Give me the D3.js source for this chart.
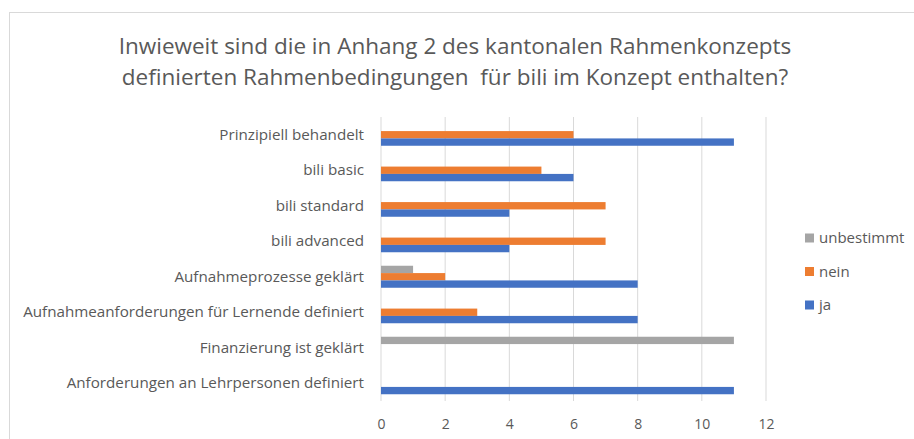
<!DOCTYPE html>
<html>
<head>
<meta charset="utf-8">
<script src="https://d3js.org/d3.v7.min.js"></script>
<style>
  body { margin: 0; background: #fff; }
  text { font-family: "Open Sans", sans-serif; fill: #595959; }
  .title { font-size: 22.5px; white-space: pre; }
</style>
</head>
<body>
<div id="chart"></div>
<script>
  var categories = [
    "Prinzipiell behandelt",
    "bili basic",
    "bili standard",
    "bili advanced",
    "Aufnahmeprozesse geklärt",
    "Aufnahmeanforderungen für Lernende definiert",
    "Finanzierung ist geklärt",
    "Anforderungen an Lehrpersonen definiert"
  ];
  var seriesNames = ["unbestimmt", "nein", "ja"];
  var unbestimmt = [0, 0, 0, 0, 1, 0, 11, 0];
  var nein = [6, 5, 7, 7, 2, 3, 0, 0];
  var ja = [11, 6, 4, 4, 8, 8, 0, 11];
  var xTicks = [0, 2, 4, 6, 8, 10, 12];
  var titleLines = [
    "Inwieweit sind die in Anhang 2 des kantonalen Rahmenkonzepts",
    "definierten Rahmenbedingungen  für bili im Konzept enthalten?"
  ];

  var colours = { unbestimmt: "#a5a5a5", nein: "#ed7d31", ja: "#4472c4" };
  var seriesValues = { unbestimmt: unbestimmt, nein: nein, ja: ja };

  var width = 914, height = 439;
  var plot = { left: 381, right: 766, top: 117, bottom: 401 };

  var svg = d3.select("#chart").append("svg")
    .attr("width", width)
    .attr("height", height);

  // chart frame (only left and top visible)
  svg.append("rect")
    .attr("x", 9.5).attr("y", 12.5)
    .attr("width", 950).attr("height", 500)
    .attr("fill", "none")
    .attr("stroke", "#d9d9d9");

  svg.selectAll("text.title")
    .data(titleLines)
    .enter().append("text")
    .attr("class", "title")
    .attr("x", 455)
    .attr("y", function (d, i) { return 54 + i * 31; })
    .attr("text-anchor", "middle")
    .text(function (d) { return d; });

  var x = d3.scaleLinear().domain([0, 12]).range([plot.left, plot.right]);
  var y = d3.scaleBand().domain(categories).range([plot.top, plot.bottom]).paddingInner(0.38).paddingOuter(0.19);
  var ySub = d3.scaleBand().domain(seriesNames).range([0, y.bandwidth()]);

  // vertical gridlines
  svg.append("g")
    .selectAll("line")
    .data(xTicks)
    .enter().append("line")
    .attr("x1", function (d) { return x(d); })
    .attr("x2", function (d) { return x(d); })
    .attr("y1", plot.top)
    .attr("y2", plot.bottom)
    .attr("stroke", "#d9d9d9")
    .attr("stroke-width", 1);

  var xAxis = svg.append("g")
    .attr("transform", "translate(0," + plot.bottom + ")")
    .call(d3.axisBottom(x).tickValues(xTicks).tickSize(0).tickPadding(18));
  xAxis.select(".domain").remove();
  xAxis.selectAll("text").style("font-size", "14px").attr("fill", "#595959");

  var yAxis = svg.append("g")
    .attr("transform", "translate(" + (plot.left - 17) + ",0)")
    .call(d3.axisLeft(y).tickSize(0).tickPadding(0));
  yAxis.select(".domain").remove();
  yAxis.selectAll("text").style("font-size", "15.2px").attr("fill", "#595959");

  var rows = svg.append("g")
    .selectAll("g")
    .data(categories)
    .enter().append("g")
    .attr("transform", function (d) { return "translate(0," + y(d) + ")"; });

  rows.selectAll("rect")
    .data(function (c, i) {
      return seriesNames.map(function (s) { return { series: s, value: seriesValues[s][i] }; });
    })
    .enter().append("rect")
    .attr("x", x(0))
    .attr("y", function (d) { return ySub(d.series); })
    .attr("height", ySub.bandwidth())
    .attr("width", function (d) { return x(d.value) - x(0); })
    .attr("fill", function (d) { return colours[d.series]; });

  var legend = svg.append("g")
    .selectAll("g")
    .data(seriesNames)
    .enter().append("g")
    .attr("transform", function (d, i) { return "translate(805," + (238 + i * 33.5) + ")"; });

  legend.append("rect")
    .attr("x", 0).attr("y", -4.5)
    .attr("width", 9).attr("height", 9)
    .attr("fill", function (d) { return colours[d]; });

  legend.append("text")
    .attr("x", 14)
    .attr("dy", "0.35em")
    .style("font-size", "15px")
    .text(function (d) { return d; });
</script>
</body>
</html>
